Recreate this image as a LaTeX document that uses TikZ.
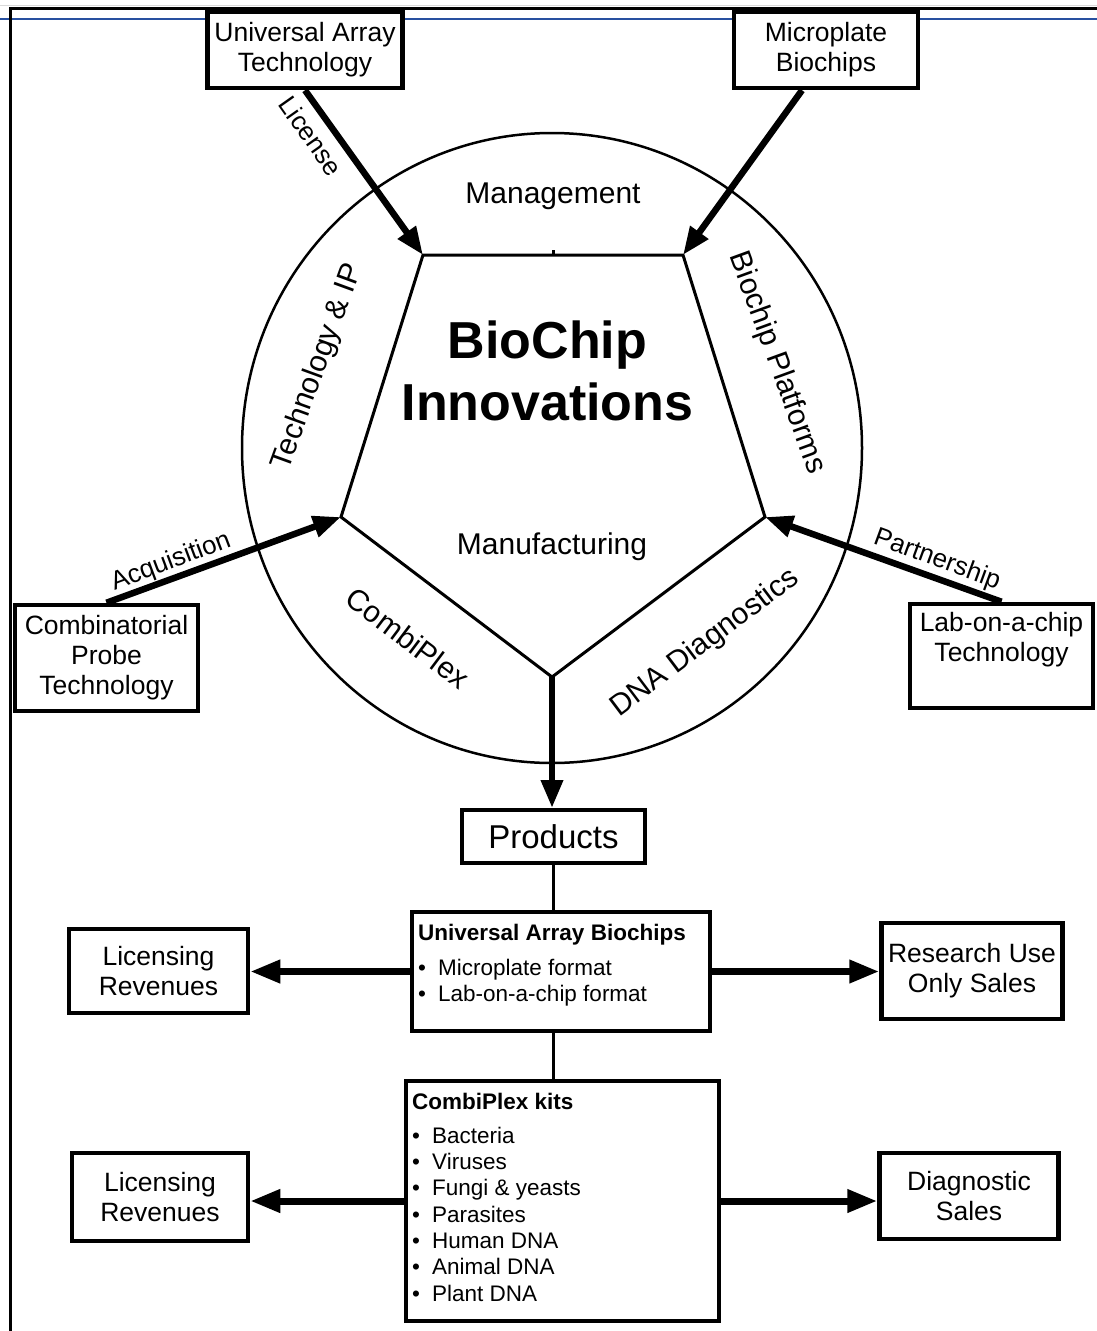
\documentclass[tikz,border=0pt]{standalone}
\usepackage{fontspec}
\setmainfont{Liberation Sans}
\usetikzlibrary{arrows.meta,calc}

\definecolor{ruleblue}{RGB}{40,80,160}
\newcommand{\bxfont}{\fontsize{26.5}{30}\selectfont}
\newcommand{\scfont}{\fontsize{30}{34}\selectfont}
\newcommand{\lbfont}{\fontsize{26}{30}\selectfont}
\newcommand{\itfont}{\fontsize{22.5}{26}\selectfont}
\newcommand{\prfont}{\fontsize{33}{38}\selectfont}
\newcommand{\ttlfont}{\fontsize{52}{62}\selectfont\bfseries}

\tikzset{
  box/.style={draw, line width=4.5pt, fill=white, inner sep=0pt, align=center, font=\bxfont},
  sect/.style={font=\scfont, inner sep=0pt},
  lbl/.style={font=\lbfont, inner sep=0pt},
  itemtxt/.style={anchor=base west, inner sep=0pt, font=\itfont},
  headtxt/.style={anchor=base west, inner sep=0pt, font=\itfont\bfseries},
  flow/.style={line width=6.5pt, -{Triangle[length=28pt,width=21pt]}},
  hflow/.style={line width=7pt, -{Triangle[length=30pt,width=22pt]}},
  link/.style={line width=3pt},
}

\begin{document}
\begin{tikzpicture}[x=1pt, y=-1pt, line join=miter]
\useasboundingbox (0,0) rectangle (1097,1331);
\fill[white] (0,0) rectangle (1097,1331);

% page rules
\draw[gray!30, line width=1pt] (0,5.5) -- (1097,5.5);
\draw[ruleblue, line width=1.6pt] (0,19) -- (1097,19);
\draw[line width=3pt] (10,1331) -- (10,8.5) -- (1097,8.5);

% outer ring and central pentagon
\draw[line width=2.5pt] (552,448) ellipse [x radius=310, y radius=315];
\coordinate (pT) at (423,255);
\coordinate (pR) at (683,255);
\coordinate (pBR) at (765,517);
\coordinate (pB) at (552,677);
\coordinate (pBL) at (341,517);
\draw[link] (pT) -- (pR) -- (pBR) -- (pB) -- (pBL) -- cycle;
\fill (551.5,250) rectangle (554.5,254);

% title and segment labels
\node[font=\ttlfont, align=center, inner sep=0pt] (title) at (547.5,371) {BioChip\\Innovations};
\node[sect] (mgmt) at (553,196) {Management};
\node[sect] (manu) at (552,547) {Manufacturing};
\node[sect, rotate=70] (tip) at (318,367) {Technology \& IP};
\node[sect, rotate=-70] (bpl) at (777,363) {Biochip Platforms};
\node[sect, rotate=-37] (cbx) at (408,638) {CombiPlex};
\node[sect, rotate=37] (dnad) at (705,643) {DNA Diagnostics};

% source boxes
\node[box, minimum width=195pt, minimum height=76pt] (ua) at (305,50) {Universal Array\\Technology};
\node[box, minimum width=184pt, minimum height=76pt] (mp) at (826,50) {Microplate\\Biochips};
\node[box, minimum width=183pt, minimum height=106pt] (cpt) at (106.5,658) {Combinatorial\\Probe\\Technology};
\node[box, minimum width=183pt, minimum height=104pt] (loc) at (1001.5,656) {Lab-on-a-chip\\Technology\\\strut};

% inflows
\draw[flow] (ua.south) -- (pT);
\draw[flow] ($(mp.south)+(-24,0)$) -- (pR);
\draw[flow] (cpt.north) -- (pBL);
\draw[flow] (loc.north) -- (pBR);
\node[lbl, rotate=-54.8] (lic) at (311,136) {License};
\node[lbl, rotate=20.6] (acq) at (171,562) {Acquisition};
\node[lbl, rotate=-20.2] (part) at (937,560) {Partnership};

% products
\node[box, line width=4pt, minimum width=183pt, minimum height=53pt, font=\prfont] (prod) at (553.5,836.5) {Products};
\draw[flow] (pB) -- (pB |- prod.north);

\node[box, line width=4pt, minimum width=298pt, minimum height=119pt] (uab) at (561,971.5) {};
\node[box, line width=4pt, minimum width=313pt, minimum height=240pt] (cpk) at (562.5,1201) {};
\draw[link] (prod.south) -- (prod.south |- uab.north);
\draw[link] (prod.south |- uab.south) -- (prod.south |- cpk.north);

\node[headtxt] (uabh) at (418,940) {Universal Array Biochips};
\node[itemtxt] (uabb1) at (418,975) {•};
\node[itemtxt] (uabi1) at (438,975) {Microplate format};
\node[itemtxt] (uabb2) at (418,1001) {•};
\node[itemtxt] (uabi2) at (438,1001) {Lab-on-a-chip format};

\node[headtxt] (cpkh) at (412,1109) {CombiPlex kits};
\foreach \t [count=\i from 0] in {Bacteria, Viruses, Fungi \& yeasts, Parasites, Human DNA, Animal DNA, Plant DNA} {
  \node[itemtxt] (cpkb\i) at (412,1143.3+26.3*\i) {•};
  \node[itemtxt] (cpki\i) at (432,1143.3+26.3*\i) {\t};
}

% revenue boxes
\node[box, minimum width=179pt, minimum height=84pt] (lr1) at (158.5,971) {Licensing\\Revenues};
\node[box, minimum width=181pt, minimum height=96pt] (ruo) at (972,971) {Research Use\\Only Sales};
\node[box, minimum width=176pt, minimum height=88pt] (lr2) at (160,1197) {Licensing\\Revenues};
\node[box, minimum width=179pt, minimum height=86pt] (ds) at (969,1196) {Diagnostic\\Sales};

\draw[hflow] (uab.west) -- (uab.west -| lr1.east);
\draw[hflow] (uab.east) -- (uab.east -| ruo.west);
\draw[hflow] (cpk.west) -- (cpk.west -| lr2.east);
\draw[hflow] (cpk.east) -- (cpk.east -| ds.west);
\end{tikzpicture}
\end{document}
